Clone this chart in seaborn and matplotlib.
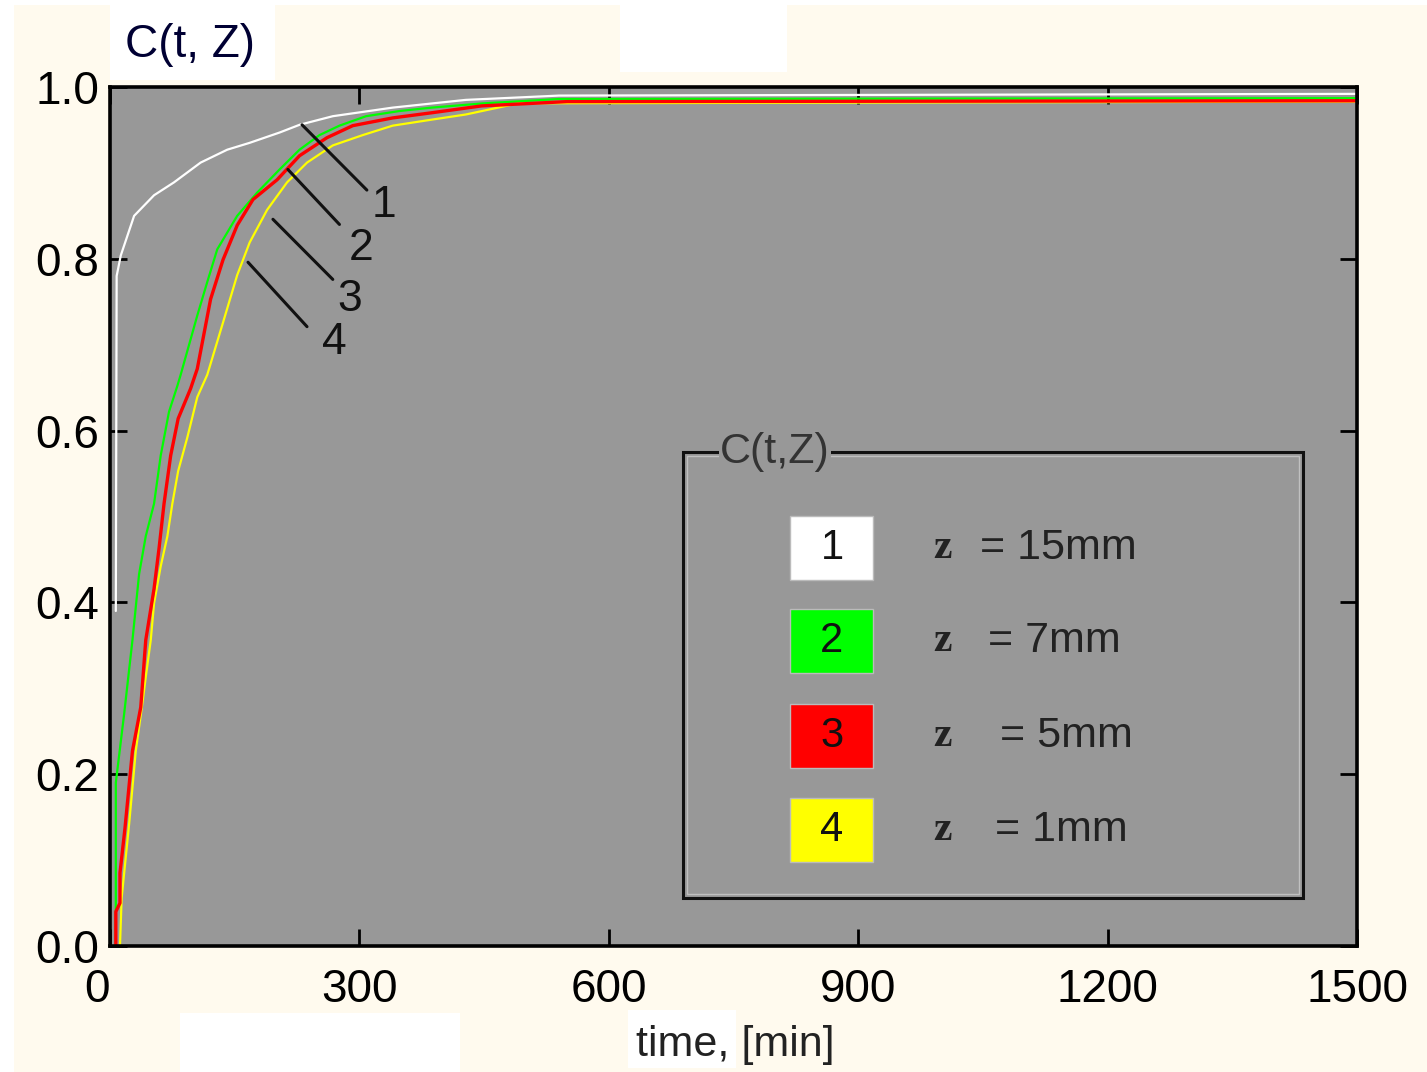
import pandas as pd
import matplotlib.pyplot as plt
import seaborn as sns
from matplotlib.patches import Rectangle

# curve data: time [min] and C(t, Z)
t1 = [7, 8, 13, 29, 53, 77, 109, 141, 168, 204, 228, 268, 340, 428, 540, 1500]
c1 = [0.39, 0.78, 0.804, 0.85, 0.874, 0.889, 0.912, 0.927, 0.935, 0.947, 0.956, 0.966, 0.976, 0.985, 0.990, 0.992]

t2 = [7, 7, 17, 27, 35, 43, 53, 61, 71, 81, 85, 105, 117, 129, 153, 177, 204, 228, 252, 276, 308, 348, 387, 450, 540, 1500]
c2 = [0.0, 0.19, 0.27, 0.356, 0.433, 0.477, 0.515, 0.571, 0.622, 0.652, 0.665, 0.734, 0.773, 0.811, 0.850, 0.877, 0.904, 0.927, 0.944, 0.955, 0.966, 0.972, 0.976, 0.981, 0.986, 0.987]

t3 = [7, 7, 12, 12, 18, 27, 37, 43, 53, 59, 65, 73, 82, 97, 105, 121, 136, 153, 172, 201, 228, 261, 292, 340, 387, 447, 550, 1500]
c3 = [0.0, 0.04, 0.05, 0.085, 0.137, 0.227, 0.278, 0.356, 0.416, 0.463, 0.515, 0.571, 0.614, 0.649, 0.672, 0.753, 0.799, 0.839, 0.869, 0.892, 0.920, 0.941, 0.955, 0.964, 0.970, 0.978, 0.983, 0.984]

t4 = [12, 14, 23, 31, 39, 43, 49, 53, 61, 69, 75, 82, 93, 105, 117, 136, 153, 168, 189, 213, 237, 268, 304, 340, 387, 428, 491, 1500]
c4 = [0.0, 0.056, 0.142, 0.227, 0.283, 0.313, 0.356, 0.399, 0.442, 0.477, 0.515, 0.553, 0.592, 0.639, 0.665, 0.726, 0.781, 0.819, 0.857, 0.889, 0.912, 0.932, 0.944, 0.955, 0.962, 0.968, 0.981, 0.983]

labels = ['1', '2', '3', '4']
depths = ['15mm', '7mm', '5mm', '1mm']
colors = ['#ffffff', '#00ff00', '#ff0000', '#ffff00']

# leader lines: point on curve -> end of line, and label position
lead_start = [(231, 0.956), (214, 0.904), (196, 0.846), (166, 0.796)]
lead_end = [(309, 0.880), (276, 0.840), (268, 0.776), (237, 0.721)]
lead_text = [(329, 0.862), (302, 0.812), (288, 0.753), (270, 0.703)]

xticks = [0, 300, 600, 900, 1200, 1500]
yticks = [0.0, 0.2, 0.4, 0.6, 0.8, 1.0]

sns.set_style('ticks')
plt.rcParams['font.family'] = ['Liberation Sans', 'DejaVu Sans']

W, H = 1427, 1072


def px(x, y):
    return x / W, 1 - y / H


fig = plt.figure(figsize=(14.27, 10.72), dpi=100, facecolor='#fffaee')
ax = fig.add_axes([110 / W, 1 - 946 / H, 1247 / W, 859 / H])
ax.set_facecolor('#989898')

# white patches in the background of the original
for (x0, y0, x1, y1) in [(0, 0, 1427, 5), (0, 0, 14, 1072), (110, 5, 275, 80),
                         (620, 5, 787, 72), (180, 1013, 460, 1072), (628, 1010, 736, 1068)]:
    fig.patches.append(Rectangle(px(x0, y1), (x1 - x0) / W, (y1 - y0) / H,
                                 transform=fig.transFigure, facecolor='white',
                                 edgecolor='none', zorder=0))

frames = []
for lab, tt, cc in zip(labels, [t1, t2, t3, t4], [c1, c2, c3, c4]):
    frames.append(pd.DataFrame({'t': tt, 'C': cc, 'curve': lab}))
df = pd.concat(frames, ignore_index=True)

# draw order so red sits on top of yellow at the plateau
for lab, lw in [('1', 1.6), ('4', 1.6), ('2', 1.6), ('3', 2.4)]:
    sub = df[df['curve'] == lab]
    sns.lineplot(data=sub, x='t', y='C', ax=ax, color=colors[int(lab) - 1],
                 lw=lw, estimator=None, sort=False, legend=False)

for s, e, tp, lab in zip(lead_start, lead_end, lead_text, labels):
    ax.annotate('', xy=s, xytext=e,
                arrowprops=dict(arrowstyle='-', color='#111111', lw=2.2,
                                shrinkA=0, shrinkB=0))
    ax.text(tp[0], tp[1], lab, fontsize=32, color='#111111', ha='center', va='center')

ax.set_xlim(0, 1495)
ax.set_ylim(0, 1.0)
ax.set_xticks(xticks)
ax.set_yticks(yticks)
ax.set_xticklabels([str(v) for v in xticks])
ax.set_yticklabels([f'{v:.1f}' for v in yticks])
ax.tick_params(direction='in', length=12, width=2, top=True, right=True,
               labelsize=33, colors='black', pad=8)
ax.tick_params(axis='x', pad=16)
ax.get_xticklabels()[0].set_horizontalalignment('right')
for sp in ax.spines.values():
    sp.set_visible(True)
    sp.set_linewidth(2.6)
    sp.set_color('black')
ax.set_xlabel('')
ax.set_ylabel('')

fig.text(*px(190, 45), 'C(t, Z)', fontsize=33, color='#000033', ha='center', va='center')
fig.text(*px(735, 1045), 'time, [min]', fontsize=31, color='#222222', ha='center', va='center')

# legend box drawn by hand, in the style of the original
bx0, by0, bx1, by1 = 683, 452, 1303, 898
fig.patches.append(Rectangle(px(bx0, by1), (bx1 - bx0) / W, (by1 - by0) / H,
                             transform=fig.transFigure, facecolor='none',
                             edgecolor='#111111', lw=2.2, zorder=5))
fig.patches.append(Rectangle(px(bx0 + 4, by1 - 4), (bx1 - bx0 - 8) / W, (by1 - by0 - 8) / H,
                             transform=fig.transFigure, facecolor='none',
                             edgecolor='#c0c0c0', lw=1.0, zorder=5))
fig.text(*px(775, 452), 'C(t,Z)', fontsize=31, color='#333333', ha='center', va='center',
         zorder=6, bbox=dict(facecolor='#989898', edgecolor='none', pad=1))

row_y = [548, 641, 736, 830]
eq_x = [980, 988, 1000, 995]
for lab, dep, col, yy, ex in zip(labels, depths, colors, row_y, eq_x):
    fig.patches.append(Rectangle(px(790, yy + 32), 83 / W, 64 / H,
                                 transform=fig.transFigure, facecolor=col,
                                 edgecolor='#bbbbbb', lw=1.0, zorder=5))
    fig.text(*px(832, yy), lab, fontsize=30, color='#111111', ha='center', va='center', zorder=6)
    fig.text(*px(942, yy), 'z', fontsize=30, family='Liberation Serif', weight='bold',
             color='#222222', ha='center', va='center', zorder=6)
    fig.text(*px(ex, yy), '= ' + dep, fontsize=31, color='#222222', ha='left', va='center', zorder=6)

fig.savefig('out.png', dpi=100, facecolor=fig.get_facecolor())
